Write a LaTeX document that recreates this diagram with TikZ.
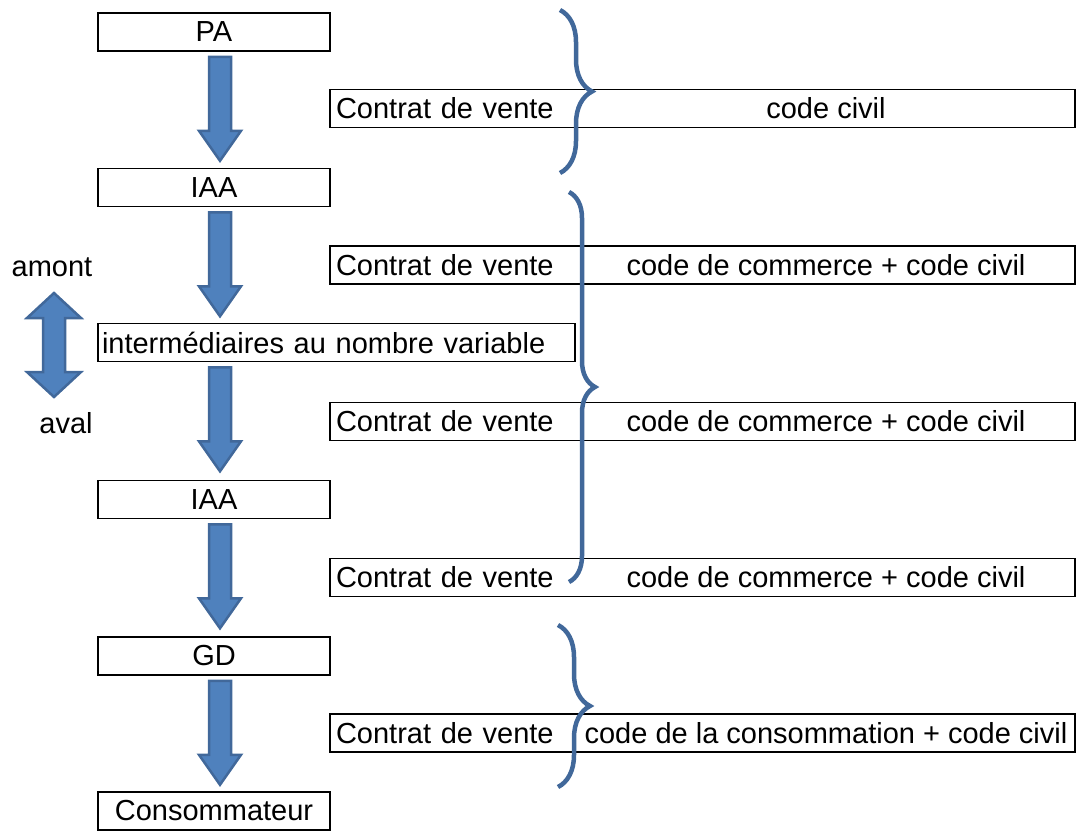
\documentclass[tikz,border=0pt]{standalone}
\usepackage{fontspec}
\setmainfont{Liberation Sans}
\usetikzlibrary{decorations.pathreplacing,calc}
\definecolor{arrowfill}{HTML}{4F81BD}
\definecolor{arrowline}{HTML}{41689A}

\begin{document}
\begin{tikzpicture}[x=1pt,y=-1pt,
        every node/.style={font=\fontsize{29}{34}\selectfont},
        stage/.style={draw,line width=1.6pt,minimum width=232pt,minimum height=38pt,inner sep=0pt},
        contract/.style={draw,line width=1.6pt,text width=733pt,inner xsep=6pt,inner ysep=0pt,minimum height=38pt,align=left},
        flow/.style={draw=arrowline,fill=arrowfill,line width=2.5pt},
        bracket/.style={draw=arrowline,line width=4.5pt,decorate,decoration={brace,amplitude=#1}}]
        \useasboundingbox (0,0) rectangle (1080,831);

        % chain of actors
        \node[stage] (pa) at (214,32) {PA};
        \node[stage] (iaa1) at (214,187.5) {IAA};
        \node[stage,text width=469pt,inner xsep=4pt,align=left] (inter) at (336.5,342.5) {intermédiaires au nombre variable};
        \node[stage] (iaa2) at (214,499.5) {IAA};
        \node[stage] (gd) at (214,656) {GD};
        \node[stage] (cons) at (214,811) {Consommateur};

        \coordinate (axis) at (220,0);
        \foreach \a in {pa,iaa1,inter,iaa2,gd}
            \draw[flow] ($(\a.south -| axis)+(-11,5)$) -- ++(22,0) -- ++(0,74) -- ++(10,0)
                -- ++(-21,30) -- ++(-21,-30) -- ++(10,0) -- cycle;

        % contracts
        \node[contract] (c1) at (702.5,108.5) {Contrat de vente};
        \node[contract] (c2) at (702.5,265) {Contrat de vente};
        \node[contract] (c3) at (702.5,421.5) {Contrat de vente};
        \node[contract] (c4) at (702.5,577.5) {Contrat de vente};
        \node[contract] (c5) at (702.5,733) {Contrat de vente};

        \node (law1) at ([xshift=123.5pt]c1.center) {code civil};
        \node (law2) at ([xshift=123.5pt]c2.center) {code de commerce + code civil};
        \node (law3) at ([xshift=123.5pt]c3.center) {code de commerce + code civil};
        \node (law4) at ([xshift=123.5pt]c4.center) {code de commerce + code civil};
        \node (law5) at ([xshift=123.5pt]c5.center) {code de la consommation + code civil};

        % direction
        \coordinate (dir) at (54,345);
        \draw[flow] ($(dir)+(0,-52)$) -- ++(27,25) -- ++(-16,0) -- ++(0,54) -- ++(16,0) -- ++(-27,25)
            -- ++(-27,-25) -- ++(16,0) -- ++(0,-54) -- ++(-16,0) -- cycle;
        \node (amont) at (52,267) {amont};
        \node (aval) at (66,423) {aval};

        \draw[bracket=32pt] (560,10) -- (560,173);
        \draw[bracket=26pt] (569,192) -- (569,582);
        \draw[bracket=32pt] (558,625) -- (558,787);
    \end{tikzpicture}
\end{document}
